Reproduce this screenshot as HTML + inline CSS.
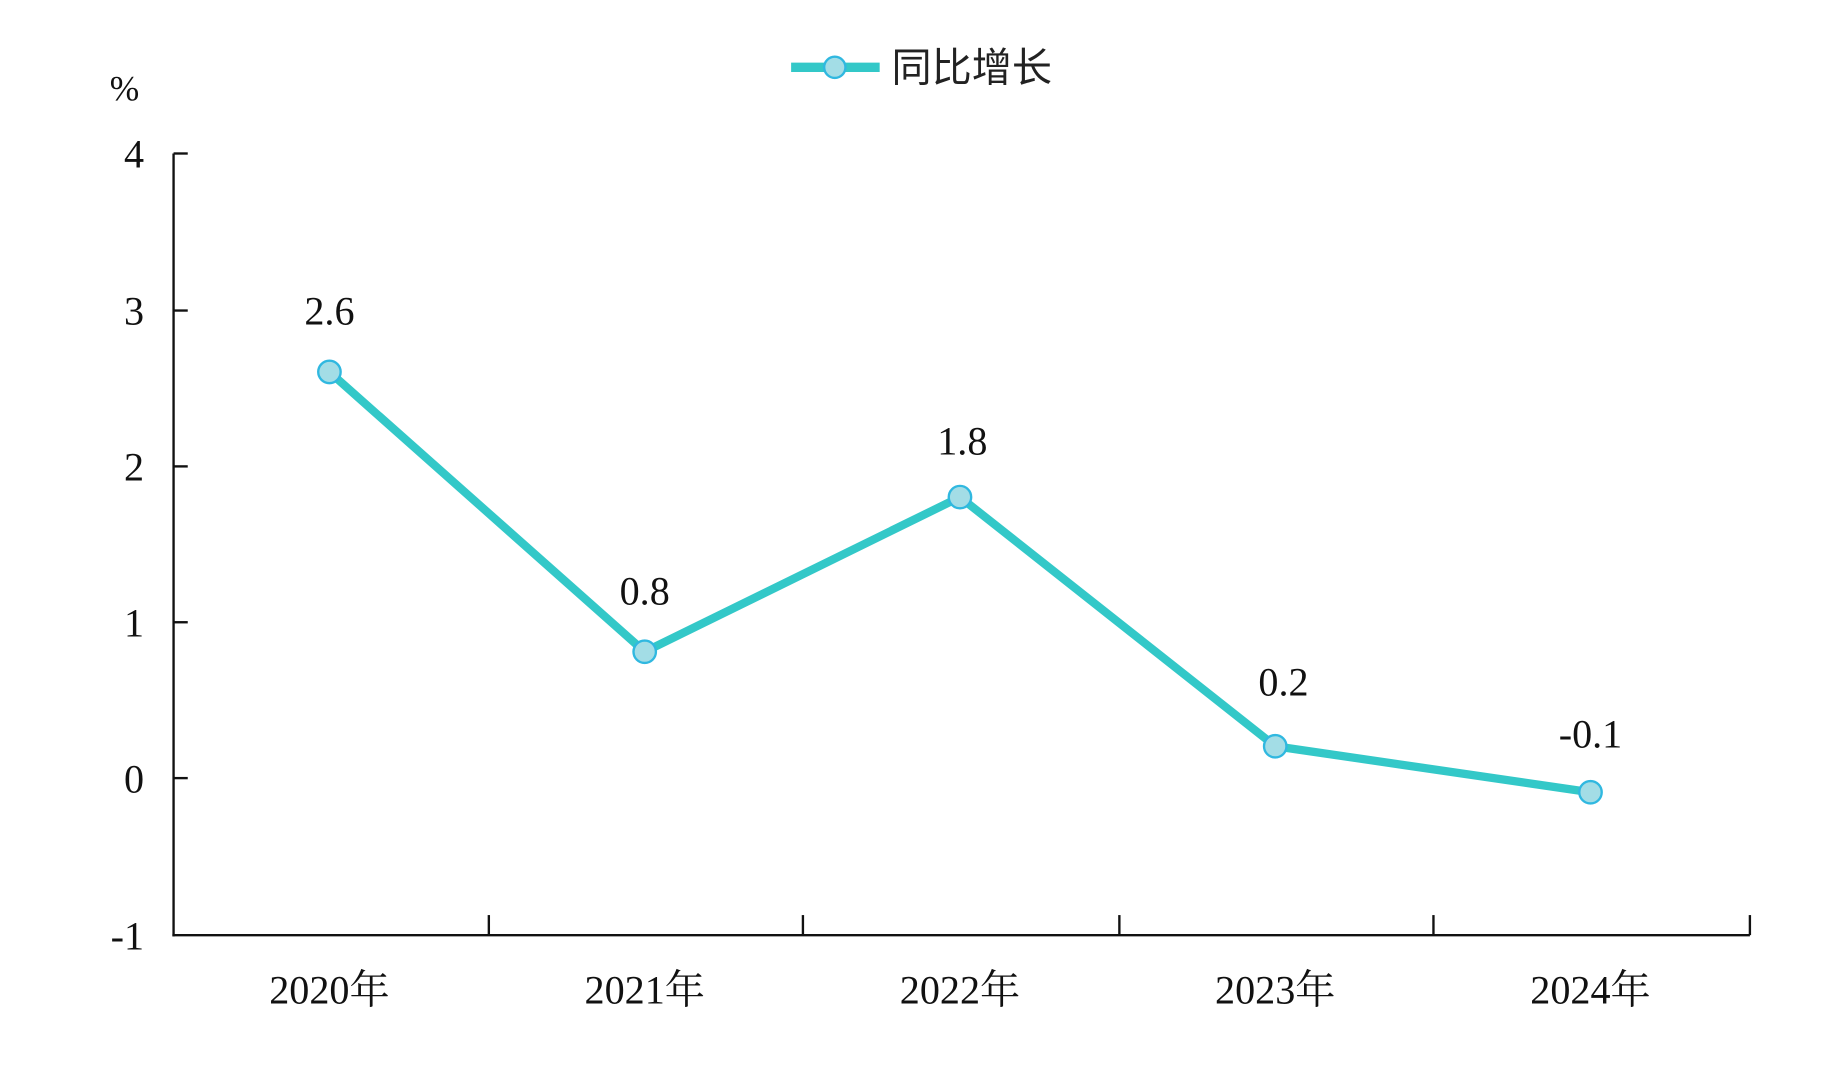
<!DOCTYPE html>
<html><head><meta charset="utf-8"><style>html,body{margin:0;padding:0;background:#fff}svg{display:block}</style></head>
<body>
<svg width="1842" height="1074" viewBox="0 0 1560 909.6" preserveAspectRatio="none" xmlns="http://www.w3.org/2000/svg" font-family="'Liberation Serif','Noto Serif CJK SC',serif" fill="#111">
<line x1="670" y1="57" x2="745" y2="57" stroke="#33c8c8" stroke-width="8"/>
<circle cx="707" cy="57" r="9" fill="#a3dde6" stroke="#30b8e0" stroke-width="2"/>
<text x="755" y="69" font-size="34" font-family="'Liberation Sans','Noto Sans CJK SC',sans-serif" fill="#222">同比增长</text>
<text x="93" y="85" font-size="30">%</text>
<g stroke="#111" stroke-width="2" fill="none">
<line x1="147" y1="130" x2="147" y2="793"/>
<line x1="146" y1="792" x2="1482" y2="792"/>
<line x1="147" y1="130" x2="159" y2="130"/>
<line x1="147" y1="263" x2="159" y2="263"/>
<line x1="147" y1="395" x2="159" y2="395"/>
<line x1="147" y1="527" x2="159" y2="527"/>
<line x1="147" y1="659" x2="159" y2="659"/>
<line x1="414" y1="775" x2="414" y2="792"/>
<line x1="680" y1="775" x2="680" y2="792"/>
<line x1="948" y1="775" x2="948" y2="792"/>
<line x1="1214" y1="775" x2="1214" y2="792"/>
<line x1="1482" y1="775" x2="1482" y2="792"/>
</g>
<g font-size="34" text-anchor="end">
<text x="122" y="142">4</text><text x="122" y="275">3</text><text x="122" y="407">2</text>
<text x="122" y="539">1</text><text x="122" y="671">0</text><text x="122" y="804">-1</text>
</g>
<g font-size="34" text-anchor="middle">
<text x="279" y="850">2020年</text><text x="546" y="850">2021年</text><text x="813" y="850">2022年</text>
<text x="1080" y="850">2023年</text><text x="1347" y="850">2024年</text>
</g>
<polyline points="279,315 546,552 813,421 1080,632 1347,671" fill="none" stroke="#33c8c8" stroke-width="7" stroke-linejoin="round"/>
<g fill="#a3dde6" stroke="#30b8e0" stroke-width="2">
<circle cx="279" cy="315" r="9.5"/><circle cx="546" cy="552" r="9.5"/><circle cx="813" cy="421" r="9.5"/>
<circle cx="1080" cy="632" r="9.5"/><circle cx="1347" cy="671" r="9.5"/>
</g>
<g font-size="34" text-anchor="middle">
<text x="279" y="275">2.6</text><text x="546" y="512">0.8</text><text x="815" y="385">1.8</text>
<text x="1087" y="589">0.2</text><text x="1347" y="633">-0.1</text>
</g>
</svg>
</body></html>
